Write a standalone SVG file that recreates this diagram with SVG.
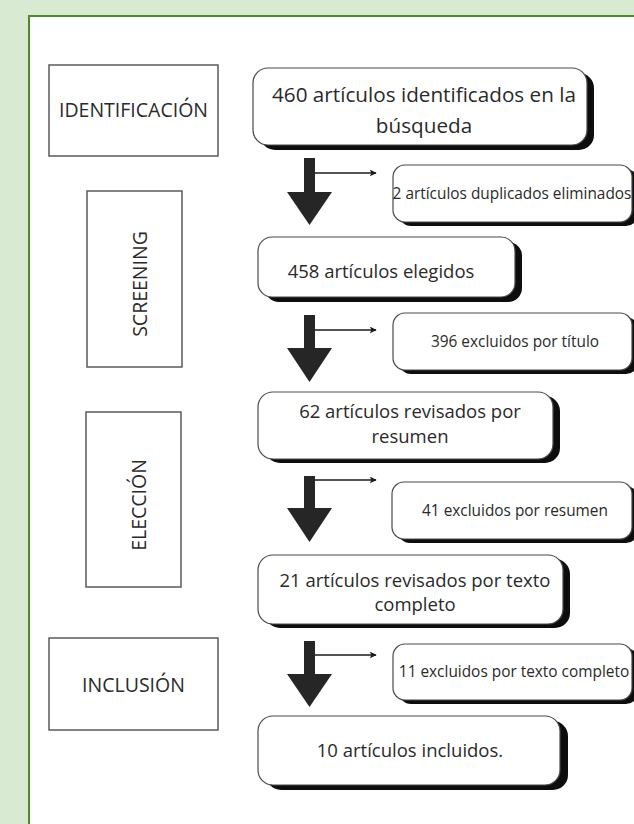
<svg xmlns="http://www.w3.org/2000/svg" width="634" height="824" viewBox="0 0 634 824">
<defs>
<style>
.stage{fill:#fff;stroke:#5a5a5a;stroke-width:1.5}
.box{fill:#fff;stroke:#4a4a4a;stroke-width:1.2}
.sh{fill:#0d0d0d}
.t{font-family:"Open Sans","DejaVu Sans",sans-serif;fill:#2a2a2a;text-anchor:middle}
.big{font-size:18.5px}
.big2{font-size:20.7px}
.sm{font-size:15.4px}
.lab{font-size:19.5px}
.thin{stroke:#1a1a1a;stroke-width:1.6;fill:none}
.fat{fill:#262626}
</style>
<marker id="ah" viewBox="0 0 10 10" refX="9" refY="5" markerWidth="7" markerHeight="7" markerUnits="userSpaceOnUse" orient="auto">
<path d="M0,0 L10,5 L0,10 L2.5,5 Z" fill="#1a1a1a"/>
</marker>
</defs>
<rect x="0" y="0" width="634" height="824" fill="#d9ead3"/>
<rect x="29" y="16" width="620" height="830" fill="#fff" stroke="#4a8a2c" stroke-width="2"/>

<g id="stage-identificacion">
<rect class="stage" x="49" y="65" width="169" height="91"/>
<text class="t lab" x="133.5" y="117">IDENTIFICACIÓN</text>
</g>
<g id="stage-screening">
<rect class="stage" x="87" y="191" width="95" height="176"/>
<text class="t lab" transform="translate(147,284) rotate(-90)">SCREENING</text>
</g>
<g id="stage-eleccion">
<rect class="stage" x="86" y="412" width="95" height="175"/>
<text class="t lab" transform="translate(146,505) rotate(-90)">ELECCIÓN</text>
</g>
<g id="stage-inclusion">
<rect class="stage" x="49" y="638" width="169" height="92"/>
<text class="t lab" x="133.5" y="692">INCLUSIÓN</text>
</g>

<g id="n460">
<rect class="sh" x="260" y="73" width="334" height="77" rx="15"/>
<rect class="box" x="253" y="68" width="334" height="77" rx="15"/>
<text class="t big2" x="424" y="102">460 artículos identificados en la</text>
<text class="t big2" x="424" y="133">búsqueda</text>
</g>
<g id="n2dup">
<rect class="sh" x="399" y="169" width="239" height="57" rx="12"/>
<rect class="box" x="393" y="165" width="239" height="57" rx="12"/>
<text class="t sm" x="512" y="199">2 artículos duplicados eliminados</text>
</g>
<g id="n458">
<rect class="sh" x="265" y="242" width="257" height="60" rx="14"/>
<rect class="box" x="258" y="237" width="257" height="60" rx="14"/>
<text class="t big" x="381" y="278">458 artículos elegidos</text>
</g>
<g id="n396">
<rect class="sh" x="399" y="317" width="239" height="57" rx="12"/>
<rect class="box" x="393" y="313" width="239" height="57" rx="12"/>
<text class="t sm" x="515" y="347">396 excluidos por título</text>
</g>
<g id="n62">
<rect class="sh" x="265" y="396" width="295" height="67" rx="15"/>
<rect class="box" x="258" y="392" width="295" height="67" rx="15"/>
<text class="t big" x="410" y="418">62 artículos revisados por</text>
<text class="t big" x="410" y="443">resumen</text>
</g>
<g id="n41">
<rect class="sh" x="398" y="486" width="240" height="57" rx="12"/>
<rect class="box" x="392" y="482" width="240" height="57" rx="12"/>
<text class="t sm" x="515" y="516">41 excluidos por resumen</text>
</g>
<g id="n21">
<rect class="sh" x="265" y="559" width="305" height="69" rx="15"/>
<rect class="box" x="258" y="555" width="305" height="69" rx="15"/>
<text class="t big" x="415" y="587">21 artículos revisados por texto</text>
<text class="t big" x="415" y="611">completo</text>
</g>
<g id="n11">
<rect class="sh" x="399" y="648" width="239" height="56" rx="12"/>
<rect class="box" x="393" y="644" width="239" height="56" rx="12"/>
<text class="t sm" x="514" y="677">11 excluidos por texto completo</text>
</g>
<g id="n10">
<rect class="sh" x="266" y="721" width="302" height="69" rx="15"/>
<rect class="box" x="258" y="716" width="302" height="69" rx="15"/>
<text class="t big" x="410" y="757">10 artículos incluidos.</text>
</g>

<g id="connectors">
<rect class="fat" x="304" y="158" width="11" height="35"/>
<polygon class="fat" points="287,192 332,192 309.5,225"/>
<line class="thin" x1="315" y1="173" x2="376" y2="173" marker-end="url(#ah)"/>

<rect class="fat" x="304" y="315" width="11" height="34"/>
<polygon class="fat" points="287,348 332,348 309.5,382"/>
<line class="thin" x1="315" y1="330" x2="376" y2="330" marker-end="url(#ah)"/>

<rect class="fat" x="304" y="476" width="11" height="33"/>
<polygon class="fat" points="287,508 332,508 309.5,542"/>
<line class="thin" x1="315" y1="480" x2="376" y2="480" marker-end="url(#ah)"/>

<rect class="fat" x="304" y="641" width="11" height="34"/>
<polygon class="fat" points="287,674 332,674 309.5,707"/>
<line class="thin" x1="315" y1="655" x2="376" y2="655" marker-end="url(#ah)"/>
</g>
</svg>
